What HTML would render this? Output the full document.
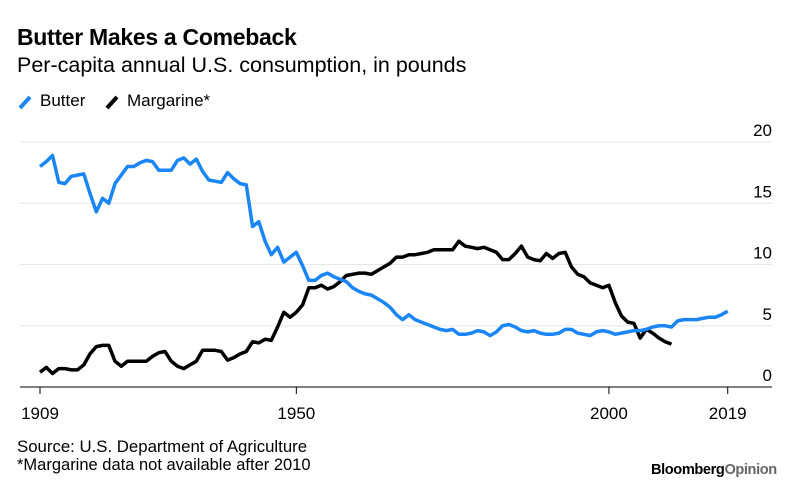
<!DOCTYPE html>
<html><head><meta charset="utf-8"><style>
body{margin:0;background:#fff;font-family:"Liberation Sans",Arial,sans-serif;}
#wrap{position:relative;width:800px;height:490px;overflow:hidden;}
.t{position:absolute;white-space:nowrap;color:#000;}
</style></head><body>
<div id="wrap">
<div class="t" style="left:17px;top:24px;font-size:23px;font-weight:bold;letter-spacing:-0.3px;">Butter Makes a Comeback</div>
<div class="t" style="left:17px;top:53px;font-size:21.5px;">Per-capita annual U.S. consumption, in pounds</div>
<div>
<svg class="t" style="left:17px;top:92px" width="20" height="20"><line x1="3" y1="16" x2="13" y2="5" stroke="#1a86f5" stroke-width="4"/></svg>
<div class="t" style="left:40px;top:91px;font-size:17px;">Butter</div>
<svg class="t" style="left:104px;top:92px" width="20" height="20"><line x1="3" y1="16" x2="13" y2="5" stroke="#000" stroke-width="4"/></svg>
<div class="t" style="left:127px;top:91px;font-size:17px;">Margarine*</div>
</div>
<svg id="chart" class="t" style="left:0;top:0" width="800" height="490"></svg>
<div class="t" style="left:17px;top:437px;font-size:16.8px;">Source: U.S. Department of Agriculture</div>
<div class="t" style="left:17px;top:456px;font-size:16.5px;">*Margarine data not available after 2010</div>
<div class="t" style="left:651px;top:462px;font-size:14.6px;font-weight:bold;letter-spacing:-0.4px;">Bloomberg<span style="color:#666">Opinion</span></div>
</div>
<script>
const butterStart = 1909;
const butterValues = [18.0,18.4,18.9,16.7,16.6,17.2,17.3,17.4,15.8,14.3,15.4,15.0,16.6,17.3,18.0,18.0,18.3,18.5,18.4,17.7,17.7,17.7,18.5,18.7,18.2,18.6,17.6,16.9,16.8,16.7,17.5,17.0,16.6,16.5,13.1,13.5,11.9,10.8,11.4,10.2,10.6,11.0,9.9,8.7,8.7,9.1,9.3,9.0,8.8,8.6,8.1,7.8,7.6,7.5,7.2,6.9,6.5,5.9,5.5,5.9,5.5,5.3,5.1,4.9,4.7,4.6,4.7,4.3,4.3,4.4,4.6,4.5,4.2,4.5,5.0,5.1,4.9,4.6,4.5,4.6,4.4,4.3,4.3,4.4,4.7,4.7,4.4,4.3,4.2,4.5,4.6,4.5,4.3,4.4,4.5,4.6,4.6,4.7,4.9,5.0,5.0,4.9,5.4,5.5,5.5,5.5,5.6,5.7,5.7,5.9,6.2];
const margarineStart = 1909;
const margarineValues = [1.2,1.6,1.1,1.5,1.5,1.4,1.4,1.8,2.7,3.3,3.4,3.4,2.1,1.7,2.1,2.1,2.1,2.1,2.5,2.8,2.9,2.1,1.7,1.5,1.8,2.1,3.0,3.0,3.0,2.9,2.2,2.4,2.7,2.9,3.7,3.6,3.9,3.8,4.9,6.1,5.7,6.1,6.7,8.1,8.1,8.3,8.0,8.2,8.6,9.1,9.2,9.3,9.3,9.2,9.5,9.8,10.1,10.6,10.6,10.8,10.8,10.9,11.0,11.2,11.2,11.2,11.2,11.9,11.5,11.4,11.3,11.4,11.2,11.0,10.4,10.4,10.9,11.5,10.6,10.4,10.3,10.9,10.5,10.9,11.0,9.8,9.2,9.0,8.5,8.3,8.1,8.3,6.9,5.8,5.3,5.2,4.0,4.7,4.4,4.0,3.7,3.5];
const yTicks = [0,5,10,15,20];
const xTicks = [1909,1950,2000,2019];

const NS = "http://www.w3.org/2000/svg";
const svg = document.getElementById('chart');
const x = yr => 40 + (yr - 1909) * 6.252;
const y = v => 387 - v * 12.25;
function mk(tag, attrs){const e=document.createElementNS(NS,tag);for(const k in attrs)e.setAttribute(k,attrs[k]);svg.appendChild(e);return e;}

yTicks.forEach(t=>{
  if(t>0){
    const g=mk('line',{x1:20,x2:772,y1:y(t),y2:y(t),stroke:'#e6e6e6','stroke-width':1});
    
    
  }
  const l=mk('text',{x:772,y:y(t)-6,'text-anchor':'end','font-size':17,'font-family':'Liberation Sans, Arial, sans-serif',fill:'#000'});
  l.textContent=t;
  
  
});
const ax=mk('line',{x1:20,x2:772,y1:y(0),y2:y(0),stroke:'#000','stroke-width':1});


xTicks.forEach(t=>{
  const tk=mk('line',{x1:x(t),x2:x(t),y1:y(0),y2:y(0)+7,stroke:'#000','stroke-width':1});
  
  
  const l=mk('text',{x:x(t),y:y(0)+32,'text-anchor':'middle','font-size':17,'font-family':'Liberation Sans, Arial, sans-serif',fill:'#000'});
  l.textContent=t;
  
  
});
function path(vals,start){return vals.map((v,i)=>(i?'L':'M')+x(start+i).toFixed(1)+','+y(v).toFixed(1)).join('');}
const m=mk('path',{d:path(margarineValues,margarineStart),fill:'none',stroke:'#000','stroke-width':3.5,'stroke-linejoin':'round'});


const b=mk('path',{d:path(butterValues,butterStart),fill:'none',stroke:'#1a86f5','stroke-width':3.5,'stroke-linejoin':'round'});


</script>
</body></html>
